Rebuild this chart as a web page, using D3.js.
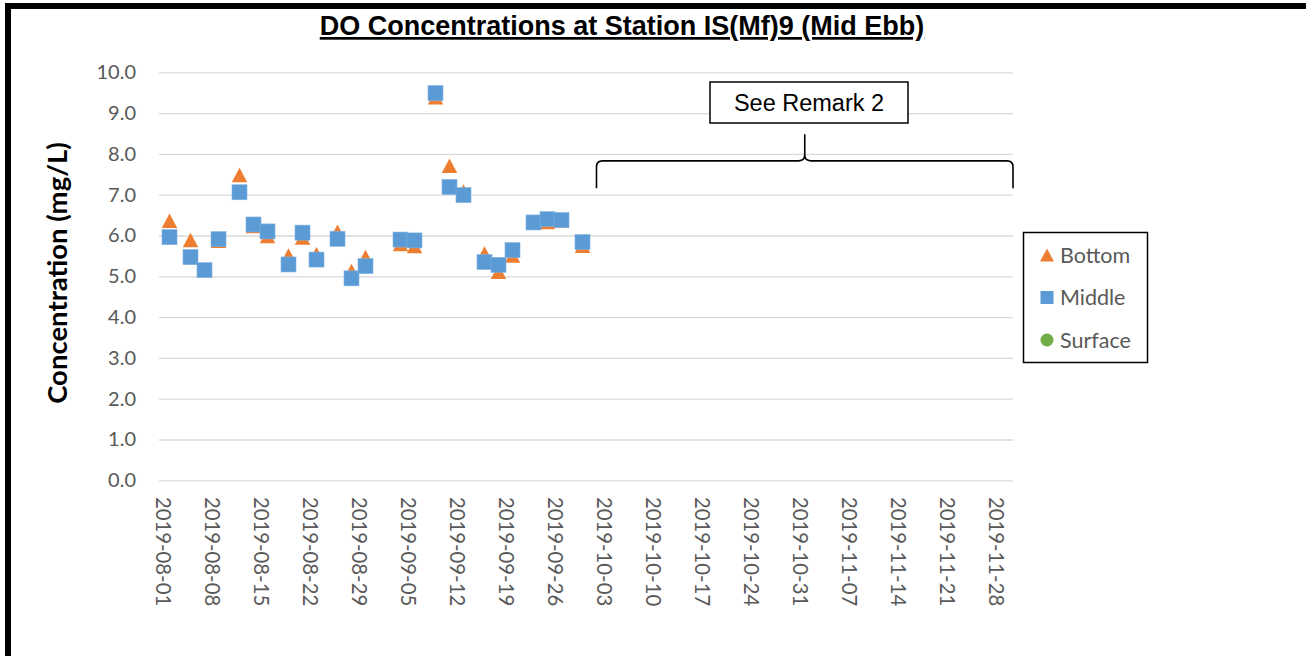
<html>
<head>
    <script src='https://cdnjs.cloudflare.com/ajax/libs/d3/7.8.5/d3.min.js'></script>
    <style>
        body { margin: 0; background: #fff; }
        text { font-family: Lato, 'Open Sans', sans-serif; }
    </style>
</head>
<body>
</body>

<script>
    // sample days (2019) and DO readings in mg/L
    var dates = ['2019-08-02', '2019-08-05', '2019-08-07', '2019-08-09', '2019-08-12', '2019-08-14',
                 '2019-08-16', '2019-08-19', '2019-08-21', '2019-08-23', '2019-08-26', '2019-08-28',
                 '2019-08-30', '2019-09-04', '2019-09-06', '2019-09-09', '2019-09-11', '2019-09-13',
                 '2019-09-16', '2019-09-18', '2019-09-20', '2019-09-23', '2019-09-25', '2019-09-27',
                 '2019-09-30'];
    var bottom = [6.36, 5.89, 5.16, 5.87, 7.48, 6.23, 5.99, 5.51, 5.95, 5.54, 6.09, 5.13,
                  5.47, 5.79, 5.74, 9.39, 7.71, 7.08, 5.56, 5.11, 5.51, 6.33, 6.33, 6.37, 5.75];
    var middle = [5.96, 5.47, 5.15, 5.91, 7.06, 6.27, 6.10, 5.29, 6.07, 5.41, 5.92, 4.95,
                  5.25, 5.90, 5.88, 9.49, 7.19, 6.99, 5.35, 5.28, 5.64, 6.32, 6.40, 6.38, 5.84];
    var surface = [];
    var xTickLabels = ['2019-08-01', '2019-08-08', '2019-08-15', '2019-08-22', '2019-08-29', '2019-09-05',
                       '2019-09-12', '2019-09-19', '2019-09-26', '2019-10-03', '2019-10-10', '2019-10-17',
                       '2019-10-24', '2019-10-31', '2019-11-07', '2019-11-14', '2019-11-21', '2019-11-28'];
    var yTicks = [0, 1, 2, 3, 4, 5, 6, 7, 8, 9, 10];
    var seriesNames = ['Bottom', 'Middle', 'Surface'];

    var colors = {Bottom: '#ed7d31', Middle: '#5b9bd5', Surface: '#70ad47'};
    var halfDay = 12 * 3600 * 1000;
    function day(s) { return new Date(Date.parse(s + 'T00:00:00Z') + halfDay); }

    var svg = d3.select('body').append('svg')
                               .attr('width', 1306).attr('height', 656);

    // frame bits
    svg.append('rect').attr('x', 5).attr('y', 3).attr('width', 1301).attr('height', 6).style('fill', '#000');
    svg.append('rect').attr('x', 5).attr('y', 3).attr('width', 6).attr('height', 653).style('fill', '#000');

    var x = d3.scaleUtc()
              .domain([new Date(Date.UTC(2019, 7, 1)), new Date(Date.UTC(2019, 11, 1))])
              .range([159, 1013]);
    var y = d3.scaleLinear().domain([0, 10]).range([480.3, 72.3]);

    // gridlines + y labels
    var yAxis = svg.append('g').attr('transform', 'translate(159,0)')
                   .call(d3.axisLeft(y).tickValues(yTicks).tickSize(-854).tickPadding(23)
                                       .tickFormat(d3.format('.1f')));
    yAxis.select('.domain').remove();
    yAxis.selectAll('line').style('stroke', '#d9d9d9').style('stroke-width', 1.3);
    yAxis.selectAll('text').style('font-family', 'Lato').style('font-size', '20px').style('fill', '#595959');

    var xAxis = svg.append('g').attr('transform', 'translate(0,480)')
                   .call(d3.axisBottom(x).tickValues(xTickLabels.map(day)).tickSize(0)
                                         .tickFormat(d3.utcFormat('%Y-%m-%d')));
    xAxis.select('.domain').remove();
    xAxis.selectAll('text')
         .attr('transform', 'rotate(90)')
         .attr('x', 17).attr('y', 0).attr('dy', '0.35em')
         .style('text-anchor', 'start')
         .style('font-family', 'Lato').style('font-size', '20.3px').style('fill', '#595959');

    function triangle(w, h) {
        return 'M0,' + (-h / 2) + 'L' + (w / 2) + ',' + (h / 2) + 'L' + (-w / 2) + ',' + (h / 2) + 'Z';
    }

    var pts = dates.map(function (d, i) {
        return {date: day(d), bottom: bottom[i], middle: middle[i]};
    });

    svg.append('g').selectAll('path').data(pts).enter().append('path')
       .attr('d', triangle(15.5, 14.5))
       .attr('transform', function (d) { return 'translate(' + x(d.date) + ',' + y(d.bottom) + ')'; })
       .style('fill', colors.Bottom);

    svg.append('g').selectAll('rect').data(pts).enter().append('rect')
       .attr('x', function (d) { return x(d.date) - 7.5; })
       .attr('y', function (d) { return y(d.middle) - 7.5; })
       .attr('width', 15).attr('height', 15)
       .style('fill', colors.Middle)
       .style('stroke', '#7fb2e0').style('stroke-width', 0.6);

    svg.append('g').selectAll('circle').data(surface).enter().append('circle')
       .attr('cx', function (d) { return x(day(d.date)); })
       .attr('cy', function (d) { return y(d.value); })
       .attr('r', 6).style('fill', colors.Surface);

    // title
    svg.append('text').attr('x', 622).attr('y', 35)
       .style('font-family', "'Liberation Sans', Arial, sans-serif")
       .style('font-weight', 'bold').style('font-size', '27px')
       .style('text-anchor', 'middle').style('text-decoration', 'underline')
       .text('DO Concentrations at Station IS(Mf)9 (Mid Ebb)');

    svg.append('text')
       .attr('transform', 'translate(57,273) rotate(-90)')
       .attr('dy', '0.35em')
       .style('font-family', 'Lato').style('font-weight', 'bold').style('font-size', '27.5px')
       .style('text-anchor', 'middle')
       .text('Concentration (mg/L)');

    // remark brace over the gap after September
    var bx0 = x(new Date(Date.UTC(2019, 9, 2, 12))), bx1 = x(new Date(Date.UTC(2019, 11, 1)));
    var bm = (bx0 + bx1) / 2, by = y(7.83), byEnd = y(7.16), byTip = y(8.48), r = 6;
    svg.append('path')
       .attr('d', 'M' + bx0 + ',' + byEnd + 'L' + bx0 + ',' + (by + r) +
                  'Q' + bx0 + ',' + by + ' ' + (bx0 + r) + ',' + by +
                  'L' + (bm - r) + ',' + by + 'Q' + bm + ',' + by + ' ' + bm + ',' + (by - r) +
                  'L' + bm + ',' + byTip +
                  'M' + bm + ',' + (by - r) + 'Q' + bm + ',' + by + ' ' + (bm + r) + ',' + by +
                  'L' + (bx1 - r) + ',' + by + 'Q' + bx1 + ',' + by + ' ' + bx1 + ',' + (by + r) +
                  'L' + bx1 + ',' + byEnd)
       .style('fill', 'none').style('stroke', '#000').style('stroke-width', 1.6);

    svg.append('rect').attr('x', 710).attr('y', 82).attr('width', 198).attr('height', 41)
       .style('fill', '#fff').style('stroke', '#000').style('stroke-width', 1.5);
    svg.append('text').attr('x', 809).attr('y', 111)
       .style('font-family', "'Liberation Sans', Arial, sans-serif").style('font-size', '23.5px')
       .style('text-anchor', 'middle')
       .text('See Remark 2');

    // legend
    var legend = svg.append('g');
    legend.append('rect').attr('x', 1023.5).attr('y', 232.5).attr('width', 124).attr('height', 130)
          .style('fill', '#fff').style('stroke', '#000').style('stroke-width', 1.5);
    var item = legend.selectAll('g.item').data(seriesNames).enter().append('g')
                     .attr('class', 'item')
                     .attr('transform', function (d, i) { return 'translate(1047,' + (255 + i * 42.5) + ')'; });
    item.each(function (d) {
        var g = d3.select(this);
        if (d === 'Bottom') {
            g.append('path').attr('d', triangle(14, 13)).style('fill', colors[d]);
        } else if (d === 'Middle') {
            g.append('rect').attr('x', -6.5).attr('y', -6.5).attr('width', 13).attr('height', 13)
             .style('fill', colors[d]);
        } else {
            g.append('circle').attr('r', 6.5).style('fill', colors[d]);
        }
    });
    item.append('text').attr('x', 13).attr('dy', '0.36em')
        .style('font-family', 'Lato').style('font-size', '21.5px').style('fill', '#595959')
        .text(function (d) { return d; });
</script>
</html>
